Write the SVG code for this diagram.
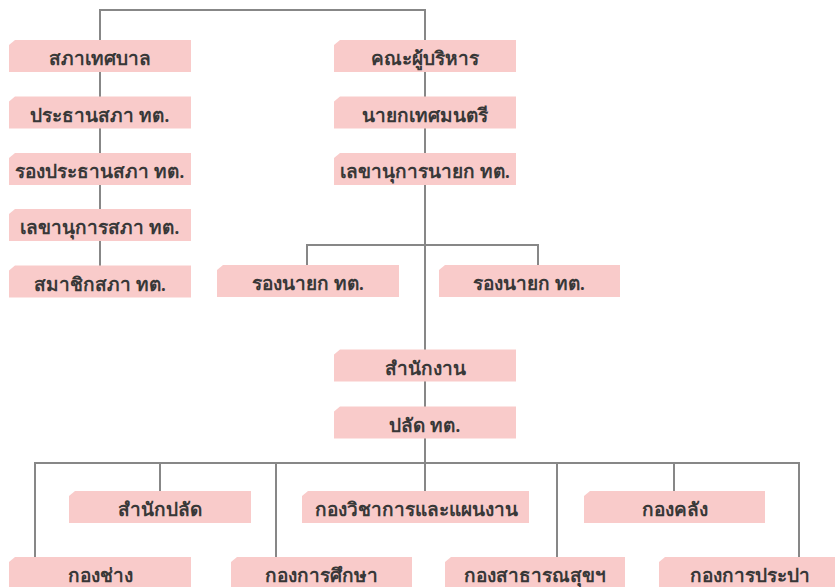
<svg xmlns="http://www.w3.org/2000/svg" width="835" height="587" viewBox="0 0 835 587">
<style>
.b{fill:#f9cbca}
.t{font-family:"Noto Sans","DejaVu Sans",sans-serif;font-size:19px;font-weight:600;fill:#383838;text-anchor:middle}
.c{fill:none;stroke:#878787;stroke-width:2}
</style>
<rect width="835" height="587" fill="#fff"/>
<g id="connectors" class="c">
<path d="M100,40 V10 H425 V40"/>
<path d="M100,72 V266"/>
<path d="M425,72 V463"/>
<path d="M307,265 V245 H538 V265"/>
<path d="M35,557 V463 H799 V557"/>
<path d="M160,463 V491"/>
<path d="M276,463 V557"/>
<path d="M425,463 V491"/>
<path d="M557,463 V557"/>
<path d="M674,463 V491"/>
</g>
<g id="n1"><path class="b" d="M15,40 H191 V72 H9 V45 Z"/><text class="t" x="100" y="65">สภาเทศบาล</text></g>
<g id="n2"><path class="b" d="M15,96.5 H191 V128.5 H9 V101.5 Z"/><text class="t" x="100" y="121.5">ประธานสภา ทต.</text></g>
<g id="n3"><path class="b" d="M15,153 H191 V185 H9 V158 Z"/><text class="t" x="100" y="178">รองประธานสภา ทต.</text></g>
<g id="n4"><path class="b" d="M15,209 H191 V241 H9 V214 Z"/><text class="t" x="100" y="234">เลขานุการสภา ทต.</text></g>
<g id="n5"><path class="b" d="M15,265.5 H191 V297.5 H9 V270.5 Z"/><text class="t" x="100" y="290.5">สมาชิกสภา ทต.</text></g>
<g id="n6"><path class="b" d="M340,40 H516 V72 H334 V45 Z"/><text class="t" x="425" y="65">คณะผู้บริหาร</text></g>
<g id="n7"><path class="b" d="M340,96.5 H516 V128.5 H334 V101.5 Z"/><text class="t" x="425" y="121.5">นายกเทศมนตรี</text></g>
<g id="n8"><path class="b" d="M340,153 H516 V185 H334 V158 Z"/><text class="t" x="425" y="178">เลขานุการนายก ทต.</text></g>
<g id="n9"><path class="b" d="M223,265 H399 V297 H217 V270 Z"/><text class="t" x="308" y="290">รองนายก ทต.</text></g>
<g id="n10"><path class="b" d="M445,265 H620 V297 H439 V270 Z"/><text class="t" x="529" y="290">รองนายก ทต.</text></g>
<g id="n11"><path class="b" d="M340,349.5 H516 V381.5 H334 V354.5 Z"/><text class="t" x="425" y="374.5">สำนักงาน</text></g>
<g id="n12"><path class="b" d="M340,406.5 H516 V438.5 H334 V411.5 Z"/><text class="t" x="425" y="431.5">ปลัด ทต.</text></g>
<g id="n13"><path class="b" d="M75,491 H251 V523 H69 V496 Z"/><text class="t" x="160" y="516">สำนักปลัด</text></g>
<g id="n14"><path class="b" d="M308,491 H529 V523 H302 V496 Z"/><text class="t" x="416" y="516">กองวิชาการและแผนงาน</text></g>
<g id="n15"><path class="b" d="M590,491 H765 V523 H584 V496 Z"/><text class="t" x="674.5" y="516">กองคลัง</text></g>
<g id="n16"><path class="b" d="M15,557 H191 V589 H9 V562 Z"/><text class="t" x="100" y="582">กองช่าง</text></g>
<g id="n17"><path class="b" d="M237,557 H412 V589 H231 V562 Z"/><text class="t" x="321.5" y="582">กองการศึกษา</text></g>
<g id="n18"><path class="b" d="M451,557 H625 V589 H445 V562 Z"/><text class="t" x="535" y="582">กองสาธารณสุขฯ</text></g>
<g id="n19"><path class="b" d="M665,557 H841 V589 H659 V562 Z"/><text class="t" x="750" y="582">กองการประปา</text></g>
</svg>
